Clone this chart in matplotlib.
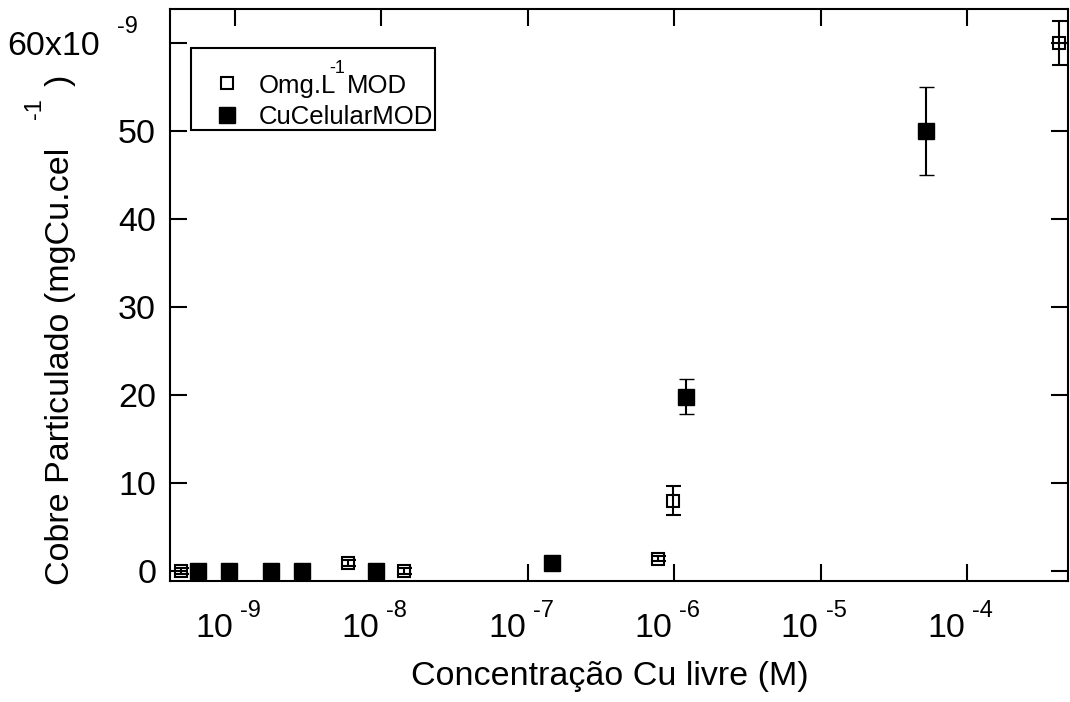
import matplotlib
matplotlib.use('Agg')
import matplotlib.pyplot as plt
from matplotlib.patches import Rectangle
from matplotlib.ticker import NullLocator
import numpy as np

plt.rcParams['font.family'] = ['Liberation Sans', 'DejaVu Sans']

# Omg.L-1 MOD (open squares); y in units of 1e-9 mgCu/cel
omg_x = [4.28e-10, 5.91e-9, 1.43e-8, 7.75e-7, 9.8e-7, 4.25e-4]
omg_y = [0, 0.9, 0, 1.4, 8.0, 60]
omg_err = [0.3, 0.3, 0.3, 0.3, 1.65, 2.5]

# CuCelularMOD (filled squares)
cel_x = [5.59e-10, 9.1e-10, 1.76e-9, 2.87e-9, 9.18e-9, 1.46e-7, 1.2e-6, 5.25e-5]
cel_y = [0, 0, 0, 0, 0, 0.9, 19.8, 50]
cel_err = [0, 0, 0, 0, 0, 0, 2.0, 5.0]

decades = [-9, -8, -7, -6, -5, -4]
y_ticks = [0, 10, 20, 30, 40, 50, 60]
y_labels = ['0', '10', '20', '30', '40', '50', '']

scale = 1e-9
W, H = 1070, 702
FS = 24.5   # main text size
FS_SUP = 17  # superscripts


def px(x, y):
    # pixel position (from top-left) -> figure fraction
    return x / W, 1 - y / H


fig = plt.figure(figsize=(10.7, 7.02), dpi=100)
ax = fig.add_axes([0.1589, 0.17236, 0.83925, 0.81482])

ax.errorbar(omg_x, np.array(omg_y) * scale, yerr=np.array(omg_err) * scale,
            fmt='s', ms=8.6, mfc='none', mec='k', mew=1.5, ecolor='k',
            elinewidth=1.5, capsize=5.4, capthick=1.5, zorder=3)
ax.errorbar(cel_x, np.array(cel_y) * scale, yerr=np.array(cel_err) * scale,
            fmt='s', ms=11.5, mfc='k', mec='k', mew=1, ecolor='k',
            elinewidth=1.5, capsize=5.4, capthick=1.5, zorder=3)

ax.set_xscale('log')
ax.set_xlim(10 ** -9.444, 10 ** -3.310)
ax.set_ylim(-1.136 * scale, 63.86 * scale)

ax.set_xticks([10.0 ** d for d in decades])
ax.xaxis.set_minor_locator(NullLocator())
ax.set_xticklabels([])
ax.set_yticks([v * scale for v in y_ticks])
ax.set_yticklabels(y_labels, fontsize=FS)

ax.tick_params(which='major', direction='in', length=12, width=1.5,
               top=True, right=True, pad=10, color='k')
for s in ax.spines.values():
    s.set_linewidth(1.5)

# x tick labels in the "10 -n" style
for d in decades:
    ax.annotate('10', xy=(10.0 ** d, 0), xycoords=('data', 'axes fraction'),
                xytext=(-2, -56), textcoords='offset pixels',
                ha='right', va='baseline', fontsize=FS)
    ax.annotate(str(d), xy=(10.0 ** d, 0), xycoords=('data', 'axes fraction'),
                xytext=(5, -36), textcoords='offset pixels',
                ha='left', va='baseline', fontsize=FS_SUP)

# top y label with multiplier
ax.annotate('60x10', xy=(0, 60 * scale), xycoords=('axes fraction', 'data'),
            xytext=(-70, -12), textcoords='offset pixels',
            ha='right', va='baseline', fontsize=FS)
ax.annotate('-9', xy=(0, 60 * scale), xycoords=('axes fraction', 'data'),
            xytext=(-53, 10), textcoords='offset pixels',
            ha='left', va='baseline', fontsize=FS_SUP)

# y axis title, pieces placed like the original
fig.text(*px(69, 585), 'Cobre Particulado (mgCu.cel', rotation=90,
         rotation_mode='anchor', ha='left', va='baseline', fontsize=FS)
fig.text(*px(41, 119), '-1', rotation=90, rotation_mode='anchor',
         ha='left', va='baseline', fontsize=FS_SUP)
fig.text(*px(69, 86), ')', rotation=90, rotation_mode='anchor',
         ha='left', va='baseline', fontsize=FS)

# x axis title
fig.text(*px(610, 685), 'Concentração Cu livre (M)',
         ha='center', va='baseline', fontsize=FS)

# legend box
ax.add_patch(Rectangle(px(191, 130), (435 - 191) / W, 82 / H, transform=fig.transFigure,
                       fill=False, ec='k', lw=1.5, zorder=5))
ax.plot(*px(227, 83), transform=fig.transFigure, ls='none', marker='s', ms=8.6,
        mfc='none', mec='k', mew=1.5, clip_on=False)
ax.plot(*px(227, 115), transform=fig.transFigure, ls='none', marker='s', ms=11.5,
        mfc='k', mec='k', mew=1, clip_on=False)
fig.text(*px(259, 93), 'Omg.L', ha='left', va='baseline', fontsize=18.5)
fig.text(*px(329, 73), '-1', ha='left', va='baseline', fontsize=13)
fig.text(*px(347, 93), 'MOD', ha='left', va='baseline', fontsize=18.5)
fig.text(*px(259, 124), 'CuCelularMOD', ha='left', va='baseline', fontsize=18.5)

fig.savefig('out.png', dpi=100)
